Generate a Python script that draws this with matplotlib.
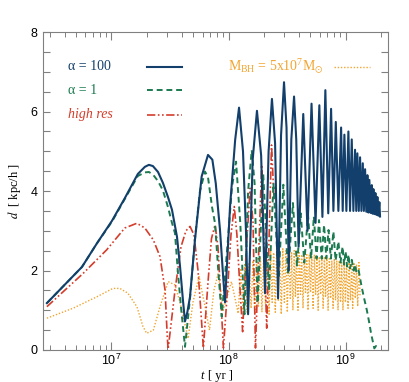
import matplotlib
matplotlib.use("Agg")
import matplotlib.pyplot as plt
from matplotlib.ticker import MultipleLocator, LogLocator, NullFormatter

# --- data (t in yr, d in kpc/h) ---
blue_t = [2.81e6, 5.6e6, 7.5e6, 1.01e7, 1.30e7, 1.68e7, 1.93e7, 2.09e7, 2.26e7, 2.50e7,
          2.75e7, 3.04e7, 3.29e7, 3.63e7, 3.85e7, 4.08e7, 4.25e7,
          4.45e7, 4.69e7, 5.17e7, 5.90e7, 6.68e7, 7.28e7, 7.78e7, 8.46e7, 9.0e7, 9.34e7,
          1.03e8, 1.14e8, 1.23e8, 1.33e8, 1.41e8, 1.47e8,
          1.61e8, 1.75e8, 1.90e8, 2.05e8, 2.20e8, 2.35e8, 2.50e8, 2.65e8, 2.81e8, 2.98e8,
          3.13e8, 3.27e8, 3.44e8, 3.63e8, 3.79e8, 3.97e8,
          4.35e8, 4.73e8, 5.12e8, 5.54e8, 5.97e8, 6.34e8, 6.72e8, 7.11e8, 7.52e8, 7.87e8,
          8.25e8, 8.68e8, 9.16e8, 9.45e8, 9.77e8, 1.016e9, 1.057e9, 1.092e9, 1.129e9, 1.166e9,
          1.205e9, 1.234e9, 1.261e9, 1.297e9, 1.33e9, 1.365e9, 1.403e9, 1.433e9, 1.468e9,
          1.503e9, 1.536e9, 1.566e9, 1.597e9, 1.636e9, 1.675e9, 1.702e9, 1.729e9, 1.763e9,
          1.798e9, 1.834e9, 1.870e9, 1.906e9, 1.944e9, 1.97e9]
blue_d = [1.18, 2.09, 2.68, 3.25, 3.82, 4.43, 4.61, 4.66, 4.63, 4.48,
          4.21, 3.85, 3.53, 2.85, 2.12, 1.26, 0.72,
          0.95, 1.34, 2.77, 4.37, 4.91, 4.79, 4.20, 3.02, 1.85, 1.20,
          3.60, 5.29, 6.10, 5.00, 3.00, 0.90,
          4.80, 6.02, 4.90, 1.43, 5.00, 6.32, 5.20, 1.30, 5.40, 6.74,
          5.60, 2.00, 5.30, 6.38, 5.30, 2.60,
          5.94, 3.00, 6.20, 3.20, 6.16, 3.35, 6.54, 3.44, 6.07, 3.50,
          5.74, 3.50, 5.60, 3.50, 5.42, 3.50, 5.50, 3.50, 5.30, 3.50,
          5.04, 3.50, 4.95, 3.50, 4.85, 3.50, 4.70, 3.50, 4.55,
          3.48, 4.40, 3.46, 4.28, 3.45, 4.15, 3.43, 4.05, 3.42,
          3.95, 3.40, 3.85, 3.38, 3.72, 3.36]

green_t = [2.81e6, 5.6e6, 7.5e6, 1.01e7, 1.30e7, 1.68e7, 1.93e7, 2.09e7, 2.26e7, 2.50e7,
           2.75e7, 3.04e7, 3.29e7, 3.49e7, 3.70e7, 3.95e7, 4.25e7,
           4.69e7, 5.17e7, 5.70e7, 6.30e7, 6.68e7, 7.23e7, 7.67e7, 8.13e7, 8.75e7,
           9.9e7, 1.07e8, 1.16e8, 1.26e8, 1.37e8, 1.47e8, 1.58e8, 1.67e8, 1.77e8,
           1.98e8, 2.22e8, 2.42e8, 2.68e8, 2.94e8, 3.23e8, 3.55e8, 3.85e8, 4.14e8, 4.44e8,
           4.78e8, 5.07e8, 5.36e8, 5.65e8, 5.93e8, 6.25e8, 6.55e8, 6.85e8, 7.15e8, 7.49e8,
           7.87e8, 8.22e8, 8.68e8, 9.05e8, 9.43e8, 9.71e8, 1.0e9, 1.03e9, 1.06e9, 1.09e9,
           1.13e9, 1.17e9, 1.20e9, 1.24e9, 1.29e9,
           1.37e9, 1.44e9, 1.52e9, 1.59e9, 1.65e9, 1.76e9, 1.82e9, 1.86e9]
green_d = [1.18, 2.09, 2.68, 3.23, 3.80, 4.38, 4.47, 4.48, 4.42, 4.25,
           4.02, 3.60, 3.20, 2.94, 1.94, 1.00, 0.08,
           1.30, 2.80, 4.00, 4.49, 4.35, 3.60, 3.19, 2.10, 0.84,
           2.80, 4.10, 4.74, 3.20, 0.90, 4.00, 5.03, 4.20, 1.18,
           4.42, 1.50, 4.20, 1.80, 4.16, 1.90, 3.70, 2.10, 3.44, 2.20,
           3.40, 2.30, 3.36, 2.30, 3.27, 2.30, 3.15, 2.30, 3.02, 2.30,
           2.98, 2.25, 2.73, 2.20, 2.60, 2.15, 2.48, 2.10, 2.40, 2.05,
           2.27, 2.00, 2.15, 1.95, 2.02,
           1.60, 1.30, 1.00, 0.70, 0.42, 0.04, 0.10, 0.02]

red_t = [2.81e6, 5.74e6, 9.1e6, 1.30e7, 1.65e7, 1.93e7, 2.28e7, 2.60e7, 2.87e7, 3.0e7, 3.05e7,
         3.49e7, 3.93e7, 4.33e7, 4.69e7, 5.07e7, 5.49e7, 5.83e7, 6.10e7,
         6.68e7, 7.15e7, 7.67e7, 8.13e7, 8.63e7, 9.05e7,
         9.9e7, 1.05e8, 1.12e8, 1.18e8, 1.25e8, 1.32e8,
         1.41e8, 1.53e8, 1.62e8, 1.70e8, 1.92e8, 2.12e8, 2.33e8, 2.45e8]
red_d = [1.09, 1.93, 2.52, 3.07, 3.19, 3.07, 2.77, 2.35, 1.51, 0.33, 0.02,
         1.50, 2.60, 3.00, 3.11, 2.90, 2.00, 0.90, 0.05,
         1.70, 2.80, 3.15, 2.60, 1.20, 0.05,
         1.70, 2.90, 3.61, 2.90, 1.60, 0.46,
         2.40, 4.07, 3.20, 0.05, 4.66, 0.55, 5.16, 3.78]

orange_t = [2.81e6, 4.69e6, 7.52e6, 1.03e7, 1.18e7, 1.38e7, 1.65e7, 1.86e7, 2.0e7, 2.28e7,
            2.60e7, 3.05e7, 3.49e7, 3.85e7, 4.52e7, 4.97e7, 5.6e7, 6.2e7, 6.88e7, 7.5e7,
            8.17e7, 9.0e7, 1.06e8, 1.21e8,
            1.27e8, 1.33e8, 1.38e8, 1.44e8, 1.50e8, 1.56e8, 1.62e8, 1.68e8, 1.74e8, 1.80e8,
            1.87e8, 1.93e8, 2.00e8, 2.07e8, 2.14e8, 2.22e8, 2.29e8, 2.36e8, 2.43e8, 2.51e8,
            2.58e8, 2.66e8, 2.74e8, 2.82e8, 2.91e8, 3.00e8, 3.09e8, 3.18e8, 3.27e8, 3.37e8,
            3.46e8, 3.55e8, 3.64e8, 3.73e8, 3.82e8, 3.92e8, 4.02e8, 4.12e8, 4.22e8, 4.33e8,
            4.44e8, 4.55e8, 4.66e8, 4.78e8, 4.90e8, 5.02e8, 5.15e8, 5.28e8, 5.41e8, 5.55e8,
            5.69e8, 5.83e8, 5.97e8, 6.12e8, 6.27e8, 6.43e8, 6.59e8, 6.75e8, 6.92e8, 7.09e8,
            7.27e8, 7.45e8, 7.63e8, 7.82e8, 8.01e8, 8.21e8, 8.41e8, 8.62e8, 8.83e8, 9.05e8,
            9.27e8, 9.50e8, 9.73e8, 9.97e8, 1.02e9, 1.05e9, 1.07e9, 1.10e9, 1.13e9, 1.15e9,
            1.18e9, 1.21e9, 1.24e9, 1.27e9, 1.30e9, 1.33e9]
orange_d = [0.80, 1.05, 1.34, 1.55, 1.55, 1.43, 1.09, 0.59, 0.42, 0.50,
            1.09, 1.72, 1.64, 1.20, 0.29, 1.20, 1.85, 1.20, 0.50, 1.50,
            1.93, 1.00, 1.72, 0.92,
            2.05, 1.00, 2.15, 0.95, 2.20, 1.05, 2.25, 0.90, 2.30, 1.10,
            2.35, 0.95, 2.40, 1.15, 2.45, 0.90, 2.50, 1.20, 2.45, 0.95,
            2.55, 1.25, 2.50, 0.90, 2.55, 1.20, 2.50, 0.95, 2.55, 1.30,
            2.45, 1.00, 2.50, 1.35, 2.45, 1.00, 2.45, 1.40, 2.40, 1.05,
            2.45, 1.45, 2.40, 1.00, 2.40, 1.45, 2.35, 1.05, 2.40, 1.40,
            2.35, 1.00, 2.35, 1.40, 2.30, 1.05, 2.35, 1.35, 2.30, 1.00,
            2.30, 1.30, 2.25, 1.05, 2.30, 1.25, 2.25, 1.00, 2.25, 1.20,
            2.20, 1.00, 2.25, 1.20, 2.20, 1.05, 2.20, 1.25, 2.15, 1.05,
            2.20, 1.30, 2.15, 1.10, 2.20, 1.35]

BLUE = "#123f6b"
GREEN = "#1b7a50"
RED = "#d43d2c"
ORANGE = "#f2a530"

plt.rcParams["font.family"] = ["Liberation Sans", "DejaVu Sans"]
plt.rcParams["mathtext.default"] = "regular"
plt.rcParams["mathtext.fontset"] = "stix"

fig = plt.figure(figsize=(4.09, 3.82), dpi=100)
ax = fig.add_axes([0.105, 0.0838, 0.844, 0.832])

ax.plot(orange_t, orange_d, color=ORANGE, lw=1.0, linestyle=(0, (1, 1.3)))
ax.plot(red_t, red_d, color=RED, lw=1.2, linestyle=(0, (5, 1.5, 1, 1.5, 1, 1.5)))
ax.plot(green_t, green_d, color=GREEN, lw=1.4, linestyle=(0, (3, 2)))
ax.plot(blue_t, blue_d, color=BLUE, lw=1.5)

ax.set_xscale("log")
ax.set_xlim(2.6e6, 2.31e9)
ax.set_ylim(0, 8)
ax.yaxis.set_major_locator(MultipleLocator(2))
ax.yaxis.set_minor_locator(MultipleLocator(0.5))
ax.xaxis.set_major_locator(LogLocator(base=10))
ax.xaxis.set_minor_locator(LogLocator(base=10, subs=range(2, 10)))
ax.xaxis.set_minor_formatter(NullFormatter())

gray = "#808080"
for s in ax.spines.values():
    s.set_color(gray)
    s.set_linewidth(0.8)
ax.tick_params(which="both", direction="in", top=True, right=True, color=gray,
               labelsize=9, pad=4)
ax.tick_params(axis="x", which="both", pad=2)
ax.tick_params(axis="x", which="major", length=6, width=0.8)
ax.tick_params(axis="x", which="minor", length=3.5, width=0.7)
ax.tick_params(axis="y", which="both", length=5, width=0.8)

serif = ["Liberation Serif", "DejaVu Serif"]
# x label: italic "t" plus upright unit, as two plain texts
tr = ax.transAxes
ax.text(0.466, -0.092, "t", family=serif, style="italic", fontsize=9,
        ha="right", va="baseline", transform=tr, clip_on=False)
ax.text(0.477, -0.092, "[ yr ]", family=serif, fontsize=9,
        ha="left", va="baseline", transform=tr, clip_on=False)
ax.set_ylabel(r"$\mathit{d}$  [ kpc/h ]", family=serif, fontsize=9)
ax.yaxis.set_label_coords(-0.058, 0.5)

# legend drawn by hand, as in the original
ax.text(0.072, 0.891, "\u03b1 = 100", color=BLUE, family=serif, fontsize=10,
        va="center", transform=tr)
ax.text(0.072, 0.818, "\u03b1 = 1", color=GREEN, family=serif, fontsize=10,
        va="center", transform=tr)
ax.text(0.072, 0.740, "high res", color=RED, family=serif, fontsize=10,
        style="italic", va="center", transform=tr)
ax.plot([0.301, 0.403], [0.891, 0.891], color=BLUE, lw=1.5, transform=tr)
ax.plot([0.301, 0.403], [0.818, 0.818], color=GREEN, lw=1.4,
        linestyle=(0, (3, 2)), transform=tr)
ax.plot([0.301, 0.403], [0.740, 0.740], color=RED, lw=1.2,
        linestyle=(0, (5, 1.5, 1, 1.5, 1, 1.5)), transform=tr)
ax.text(0.536, 0.891, r"M$_{BH}$ = 5x10$^{7}$M$_{\odot}$", color=ORANGE, family=serif,
        fontsize=10, va="center", transform=tr)
ax.plot([0.843, 0.948], [0.891, 0.891], color=ORANGE, lw=1.0,
        linestyle=(0, (1, 1.3)), transform=tr)

fig.savefig("out.png", dpi=100)
